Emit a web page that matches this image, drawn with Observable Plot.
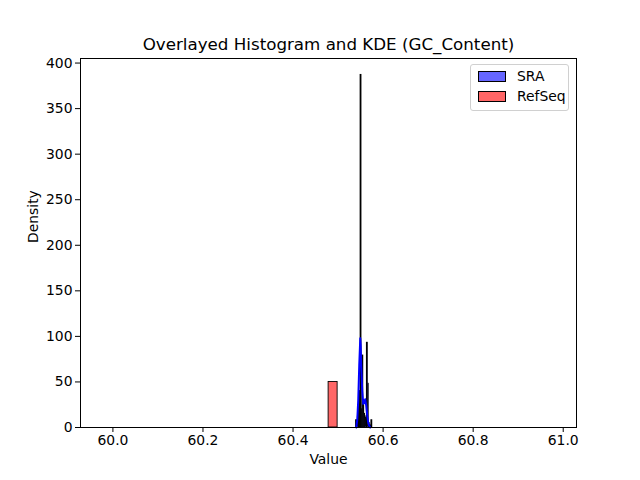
<!DOCTYPE html>
<html>
<head>
<meta charset="utf-8">
<script src="https://cdn.jsdelivr.net/npm/d3@7"></script>
<script src="https://cdn.jsdelivr.net/npm/@observablehq/plot@0.6"></script>
<style>
  html, body { margin: 0; padding: 0; background: #fff; }
  #wrap { position: relative; width: 640px; height: 480px; font-family: "DejaVu Sans", sans-serif; }
  #legend { position: absolute; left: 470px; top: 64px; width: 97px; height: 45px;
    border: 1px solid #d0d0d0; border-radius: 3px; background: rgba(255,255,255,0.8); font-size: 13.9px; color: #000; }
  .item { position: absolute; left: 7px; display: flex; align-items: center; }
  .sw { width: 26px; height: 9px; border: 1px solid #000; margin-right: 11px; }
</style>
</head>
<body>
<div id="wrap"></div>
<script>
const title = "Overlayed Histogram and KDE (GC_Content)";
const xLabel = "Value";
const yLabel = "Density";
const seriesNames = ["SRA", "RefSeq"];
const seriesColors = ["#6666ff", "#ff6666"];

// SRA histogram: bin starts and densities
const sraBinWidth = 0.002;
const sraBinStarts = [60.540, 60.542, 60.544, 60.546, 60.548, 60.550, 60.552, 60.554, 60.556, 60.558, 60.560, 60.562, 60.564, 60.566, 60.568, 60.570, 60.572, 60.574];
const sraDensity   = [8, 6, 12, 25, 40, 387, 20, 79, 30, 15, 10, 12, 93, 48, 5, 3, 2, 8];

// RefSeq histogram
const refBinWidth = 0.02;
const refBinStarts = [60.479];
const refDensity = [50];

// SRA KDE curve
const kdeX = [60.5404, 60.5426, 60.5448, 60.5470, 60.5493, 60.5503, 60.5514, 60.5537, 60.5559, 60.5581, 60.5603, 60.5625, 60.5648, 60.5670, 60.5692, 60.5714];
const kdeY = [0, 8, 30, 68, 98, 90, 68, 40, 26, 27, 31, 24, 13, 5, 2, 0];

const xTicks = [60.0, 60.2, 60.4, 60.6, 60.8, 61.0];
const yTicks = [0, 50, 100, 150, 200, 250, 300, 350, 400];

const sraBins = sraBinStarts.map((s, i) => ({x1: s, x2: s + sraBinWidth, y: sraDensity[i]}));
const refBins = refBinStarts.map((s, i) => ({x1: s, x2: s + refBinWidth, y: refDensity[i]}));
const kde = kdeX.map((x, i) => ({x, y: kdeY[i]}));

const chart = Plot.plot({
  width: 640,
  height: 480,
  marginLeft: 80,
  marginRight: 64,
  marginTop: 58,
  marginBottom: 53,
  style: {fontFamily: "DejaVu Sans, sans-serif", fontSize: "13.9px", color: "#000", background: "#fff"},
  x: {domain: [59.928, 61.0295], ticks: xTicks, tickFormat: d => d.toFixed(1), label: null},
  y: {domain: [0, 405], ticks: yTicks, label: null},
  marks: [
    Plot.rectY(sraBins, {x1: "x1", x2: "x2", y: "y", fill: seriesColors[0], stroke: "#000", strokeWidth: 0.9}),
    Plot.rectY(refBins, {x1: "x1", x2: "x2", y: "y", fill: seriesColors[1], stroke: "#000", strokeWidth: 0.9}),
    Plot.line(kde, {x: "x", y: "y", stroke: "#0000ff", strokeWidth: 2}),
    Plot.frame({stroke: "#000", strokeWidth: 1}),
    Plot.axisX({ticks: xTicks, tickFormat: d => d.toFixed(1), tickSize: 5, tickPadding: 3, label: null, fontSize: 13.9}),
    Plot.axisY({ticks: yTicks, tickSize: 5, tickPadding: 3, label: null, fontSize: 13.9}),
    Plot.text([title], {frameAnchor: "top", dy: -9, fontSize: 16.7, text: d => d, lineAnchor: "bottom"}),
    Plot.text([xLabel], {frameAnchor: "bottom", dy: 27, fontSize: 13.9, text: d => d, lineAnchor: "top"}),
    Plot.text([yLabel], {frameAnchor: "left", dx: -43, rotate: -90, fontSize: 13.9, text: d => d, lineAnchor: "bottom"})
  ]
});

const wrap = document.getElementById("wrap");
wrap.appendChild(chart);
const legend = document.createElement("div");
legend.id = "legend";
seriesNames.forEach((name, i) => {
  const it = document.createElement("div");
  it.className = "item";
  it.style.top = (i === 0 ? 3 : 23) + "px";
  const sw = document.createElement("div");
  sw.className = "sw";
  sw.style.background = seriesColors[i];
  const lb = document.createElement("span");
  lb.textContent = name;
  it.appendChild(sw);
  it.appendChild(lb);
  legend.appendChild(it);
});
wrap.appendChild(legend);
</script>
</body>
</html>
